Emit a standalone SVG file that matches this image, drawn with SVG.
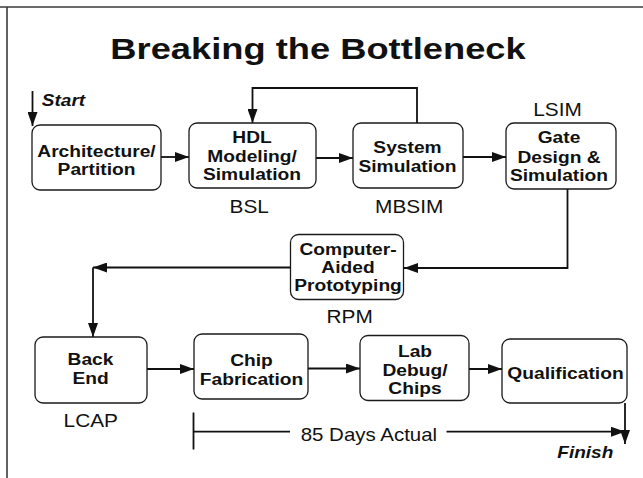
<svg xmlns="http://www.w3.org/2000/svg" width="643" height="478" viewBox="0 0 643 478">
<style>
.bg{fill:#fff}
.frame{stroke:#3a3a3a;stroke-width:1.6;fill:none}
.box{fill:#fff;stroke:#1a1a1a;stroke-width:1.3}
.c{stroke:#111;stroke-width:1.8;fill:none}
.t{font-family:"Liberation Sans",Arial,Helvetica,sans-serif;font-weight:bold;font-size:17px;fill:#111;text-anchor:middle}
.l{font-family:"Liberation Sans",Arial,Helvetica,sans-serif;font-size:17.5px;fill:#111;text-anchor:middle}
.i{font-family:"Liberation Sans",Arial,Helvetica,sans-serif;font-weight:bold;font-style:italic;font-size:17px;fill:#111;text-anchor:middle}
.title{font-family:"Liberation Sans",Arial,Helvetica,sans-serif;font-weight:bold;font-size:30px;fill:#111;text-anchor:middle}
</style>
<defs>
<marker id="ah" markerUnits="userSpaceOnUse" markerWidth="14" markerHeight="10" refX="14" refY="5" orient="auto">
<path d="M0,0 L14,5 L0,10 z" fill="#111"/>
</marker>
</defs>
<rect class="bg" x="0" y="0" width="643" height="478"/>
<g id="frame">
<line class="frame" x1="0" y1="7" x2="643" y2="7"/>
<line class="frame" x1="7" y1="7" x2="7" y2="478"/>
</g>
<g id="title">
<text class="title" transform="translate(318,58.5) scale(1.21,1)">Breaking the Bottleneck</text>
</g>
<g id="connectors">
<line class="c" x1="32.5" y1="91" x2="32.5" y2="126" marker-end="url(#ah)"/>
<line class="c" x1="161" y1="157" x2="189" y2="157" marker-end="url(#ah)"/>
<line class="c" x1="316" y1="158" x2="353" y2="158" marker-end="url(#ah)"/>
<line class="c" x1="463" y1="157" x2="506" y2="157" marker-end="url(#ah)"/>
<polyline class="c" points="417,123 417,88 252.5,88 252.5,123" marker-end="url(#ah)"/>
<polyline class="c" points="567.5,189 567.5,268 404,268" marker-end="url(#ah)"/>
<line class="c" x1="290.5" y1="267.5" x2="93" y2="267.5" marker-end="url(#ah)"/>
<line class="c" x1="93" y1="267.5" x2="93" y2="337" marker-end="url(#ah)"/>
<line class="c" x1="147" y1="369" x2="194" y2="369" marker-end="url(#ah)"/>
<line class="c" x1="308" y1="368.5" x2="360" y2="368.5" marker-end="url(#ah)"/>
<line class="c" x1="469" y1="369" x2="502" y2="369" marker-end="url(#ah)"/>
<line class="c" x1="625" y1="403" x2="625" y2="444" marker-end="url(#ah)"/>
<line class="c" x1="193.5" y1="412.5" x2="193.5" y2="449.5"/>
<line class="c" x1="193.5" y1="431.7" x2="290" y2="431.7"/>
<line class="c" x1="446.5" y1="431.7" x2="625" y2="431.7" marker-end="url(#ah)"/>
</g>
<g id="start">
<text class="i" transform="translate(63.5,106) scale(1.12,1)">Start</text>
</g>
<g id="n-arch">
<rect class="box" x="32" y="125" width="129" height="65" rx="8"/>
<text class="t" transform="translate(96.5,157.3) scale(1.13,1)">Architecture/</text>
<text class="t" transform="translate(96.5,175) scale(1.13,1)">Partition</text>
</g>
<g id="n-hdl">
<rect class="box" x="189" y="123" width="127" height="65" rx="8"/>
<text class="t" transform="translate(252,143.3) scale(1.13,1)">HDL</text>
<text class="t" transform="translate(252,162.2) scale(1.13,1)">Modeling/</text>
<text class="t" transform="translate(252,180) scale(1.13,1)">Simulation</text>
<text class="l" transform="translate(249.2,213.3) scale(1.19,1)">BSL</text>
</g>
<g id="n-sys">
<rect class="box" x="353" y="123" width="110" height="65" rx="8"/>
<text class="t" transform="translate(407.5,152.7) scale(1.13,1)">System</text>
<text class="t" transform="translate(407.5,171.7) scale(1.13,1)">Simulation</text>
<text class="l" transform="translate(409.2,213.3) scale(1.19,1)">MBSIM</text>
</g>
<g id="n-gate">
<rect class="box" x="506" y="123" width="110" height="66" rx="8"/>
<text class="t" transform="translate(559,143.3) scale(1.13,1)">Gate</text>
<text class="t" transform="translate(559,162.5) scale(1.13,1)">Design &amp;</text>
<text class="t" transform="translate(559,180.7) scale(1.13,1)">Simulation</text>
<text class="l" transform="translate(557.5,116) scale(1.19,1)">LSIM</text>
</g>
<g id="n-cap">
<rect class="box" x="290.5" y="234.5" width="113" height="65" rx="8"/>
<text class="t" transform="translate(348,255) scale(1.13,1)">Computer-</text>
<text class="t" transform="translate(348,273.3) scale(1.13,1)">Aided</text>
<text class="t" transform="translate(348,291) scale(1.13,1)">Prototyping</text>
<text class="l" transform="translate(349.7,323.3) scale(1.19,1)">RPM</text>
</g>
<g id="n-back">
<rect class="box" x="35" y="337" width="112" height="66" rx="8"/>
<text class="t" transform="translate(90.5,365) scale(1.13,1)">Back</text>
<text class="t" transform="translate(90.5,384) scale(1.13,1)">End</text>
<text class="l" transform="translate(90.8,427.3) scale(1.19,1)">LCAP</text>
</g>
<g id="n-chip">
<rect class="box" x="194" y="334" width="114" height="65" rx="8"/>
<text class="t" transform="translate(251.5,366) scale(1.13,1)">Chip</text>
<text class="t" transform="translate(251.5,385) scale(1.13,1)">Fabrication</text>
</g>
<g id="n-lab">
<rect class="box" x="360" y="335.5" width="109" height="65" rx="8"/>
<text class="t" transform="translate(415,356.7) scale(1.13,1)">Lab</text>
<text class="t" transform="translate(415,376) scale(1.13,1)">Debug/</text>
<text class="t" transform="translate(415,394) scale(1.13,1)">Chips</text>
</g>
<g id="n-qual">
<rect class="box" x="502" y="339" width="125" height="64" rx="8"/>
<text class="t" transform="translate(565.5,379.3) scale(1.13,1)">Qualification</text>
</g>
<g id="duration">
<text class="l" transform="translate(368.9,440.7) scale(1.17,1)">85 Days Actual</text>
</g>
<g id="finish">
<text class="i" transform="translate(585.3,458.3) scale(1.12,1)">Finish</text>
</g>
</svg>
